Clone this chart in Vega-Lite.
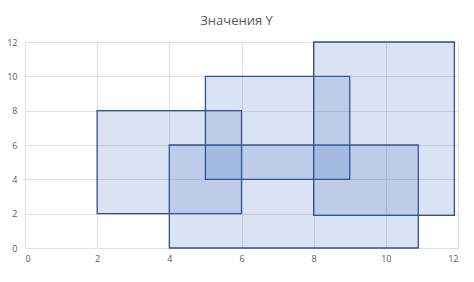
{
  "$schema": "https://vega.github.io/schema/vega-lite/v6.json",
  "autosize": "none",
  "width": 433,
  "height": 206,
  "padding": {"left": 25, "top": 42, "right": 16, "bottom": 34},
  "background": "white",
  "title": {
    "text": "Значения Y",
    "font": "Open Sans",
    "fontSize": 13,
    "fontWeight": "normal",
    "color": "#595959",
    "anchor": "middle",
    "dx": -5,
    "offset": 10
  },
  "config": {
    "view": {"stroke": null},
    "axis": {
      "labelFont": "Open Sans",
      "labelFontSize": 9,
      "labelColor": "#595959",
      "gridColor": "#e0e0e0",
      "gridWidth": 1,
      "domain": false,
      "ticks": false,
      "title": null
    }
  },
  "data": {
    "values": [
      {"name": "A", "x1": 2, "x2": 6, "y1": 2, "y2": 8},
      {"name": "B", "x1": 4, "x2": 10.9, "y1": 0, "y2": 6},
      {"name": "C", "x1": 5, "x2": 9, "y1": 4, "y2": 10},
      {"name": "D", "x1": 8, "x2": 11.9, "y1": 1.9, "y2": 12}
    ]
  },
  "mark": {
    "type": "rect",
    "fill": "#4472C4",
    "fillOpacity": 0.2,
    "stroke": "#2F528F",
    "strokeWidth": 1.3
  },
  "encoding": {
    "x": {
      "field": "x1",
      "type": "quantitative",
      "scale": {"domain": [0, 12], "nice": false},
      "axis": {"values": [0, 2, 4, 6, 8, 10, 12], "labelPadding": 6}
    },
    "x2": {"field": "x2"},
    "y": {
      "field": "y1",
      "type": "quantitative",
      "scale": {"domain": [0, 12], "nice": false},
      "axis": {"values": [0, 2, 4, 6, 8, 10, 12], "labelPadding": 8}
    },
    "y2": {"field": "y2"}
  }
}
